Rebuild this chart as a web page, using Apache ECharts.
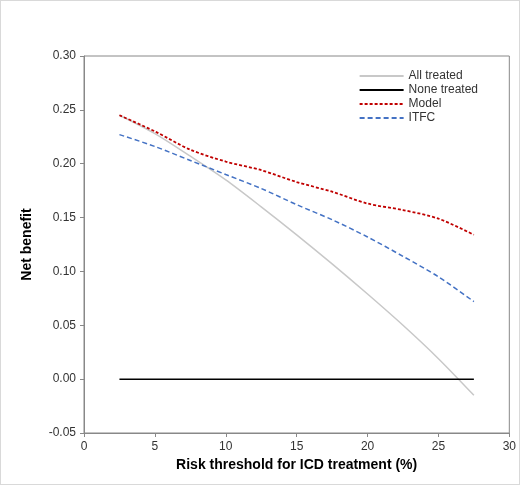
<!DOCTYPE html>
<html><head><meta charset="utf-8">
<script src="https://cdn.jsdelivr.net/npm/echarts@6/dist/echarts.min.js"></script>
<style>html,body{margin:0;padding:0;background:#fff}#c{width:520px;height:485px;box-sizing:border-box;border:1px solid #d9d9d9}</style>
</head><body><div id="c"></div>
<script>
const thresholds = [2.5, 5, 7.5, 10, 12.5, 15, 17.5, 20, 22.5, 25, 27.5];
const allTreated = [0.245, 0.228, 0.207, 0.185, 0.16, 0.134, 0.107, 0.079, 0.05, 0.019, -0.015];
const noneTreated = [0, 0, 0, 0, 0, 0, 0, 0, 0, 0, 0];
const model = [0.245, 0.23, 0.213, 0.202, 0.194, 0.183, 0.174, 0.163, 0.157, 0.149, 0.134];
const itfc = [0.227, 0.216, 0.203, 0.19, 0.177, 0.162, 0.148, 0.132, 0.114, 0.095, 0.072];

const pairs = ys => thresholds.map((x, i) => [x, ys[i]]);
const chart = echarts.init(document.getElementById("c"));
const font = "Liberation Sans Narrow, Liberation Sans";
const mk = (name, ys, color, type, width) => ({
  name, type: "line", data: pairs(ys), symbol: "none", smooth: 0.3,
  lineStyle: { color, type, width }, itemStyle: { color }, animation: false
});
chart.setOption({
  textStyle: { fontFamily: font },
  grid: { left: 83, right: 5, top: 55, bottom: 51, show: true, borderColor: "#888", borderWidth: 1 },
  legend: {
    orient: "vertical", right: 36, top: 64, itemWidth: 44, itemHeight: 10, itemGap: 2,
    textStyle: { fontSize: 12, color: "#333" }, itemStyle: { opacity: 0 },
    data: ["All treated", "None treated", "Model", "ITFC"]
  },
  xAxis: {
    type: "value", min: 0, max: 30, interval: 5,
    name: "Risk threshold for ICD treatment (%)", nameLocation: "middle", nameGap: 24,
    nameTextStyle: { fontWeight: "bold", fontSize: 14, color: "#000" },
    axisLine: { onZero: false, lineStyle: { color: "#888" } }, axisTick: { length: 4 },
    axisLabel: { color: "#333", fontSize: 12 }, splitLine: { show: false }
  },
  yAxis: {
    type: "value", min: -0.05, max: 0.3, interval: 0.05,
    name: "Net benefit", nameLocation: "middle", nameGap: 50,
    nameTextStyle: { fontWeight: "bold", fontSize: 14, color: "#000" },
    axisLine: { show: true, lineStyle: { color: "#888" } }, axisTick: { show: true, length: 4 },
    axisLabel: { color: "#333", fontSize: 12, formatter: v => v.toFixed(2) }, splitLine: { show: false }
  },
  series: [
    mk("All treated", allTreated, "#c8c8c8", "solid", 1.5),
    mk("None treated", noneTreated, "#000", "solid", 1.5),
    mk("Model", model, "#c00000", [3, 2], 1.8),
    mk("ITFC", itfc, "#4472c4", [5, 3], 1.5)
  ]
});
</script></body></html>
